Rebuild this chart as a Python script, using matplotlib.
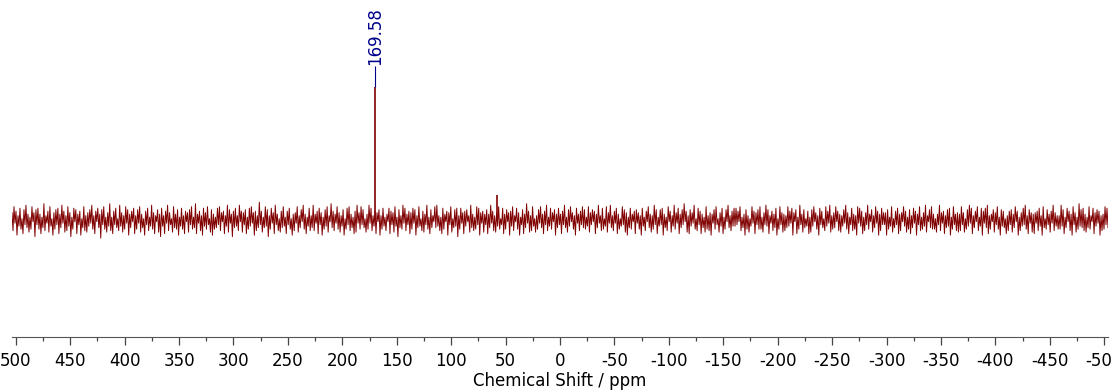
import numpy as np
import matplotlib
matplotlib.use("Agg")
import matplotlib.pyplot as plt
from matplotlib.ticker import MultipleLocator

plt.rcParams['axes.unicode_minus'] = False

# baseline noise (arbitrary intensity units), left (500 ppm) to right (-500 ppm)
noise = [
	5,-7,9,-2,6,-10,3,-4,8,-6,1,-9,7,-3,10,-5,4,-8,2,-6,9,-1,5,-11,7,
	-3,8,-6,4,-9,2,-5,11,-7,3,-2,6,-8,9,-4,1,-10,5,-6,7,-3,8,-9,4,-5,
	10,-2,6,-8,3,-7,9,-4,5,-11,2,-6,8,-1,7,-9,4,-3,6,-10,1,-5,9,-7,3,
	-8,5,-4,7,-2,10,-6,3,-9,6,-1,8,-5,4,-12,7,-3,9,-6,2,-8,5,-4,11,-7,
	2,-9,6,-3,8,-5,1,-7,10,-4,5,-8,3,-6,9,-2,7,-10,4,-5,6,-1,8,-9,3,
	-6,7,-2,9,-8,4,-5,1,-10,6,-3,8,-7,2,-4,10,-6,5,-9,3,-1,7,-8,4,-11,
	8,-4,3,-9,6,-2,10,-7,5,-3,1,-8,9,-5,4,-6,7,-10,2,-4,8,-6,3,-9,6,
	-1,5,-8,7,-3,9,-6,2,-5,11,-9,4,-2,6,-7,3,-10,8,-4,5,-6,9,-3,1,-8,
	7,-10,4,-6,2,-5,8,-3,9,-7,5,-1,6,-9,3,-4,10,-8,7,-2,4,-11,6,-5,8,
	-4,3,-7,10,-1,6,-8,5,-3,7,-9,2,-6,8,-4,9,-2,5,-10,6,-7,3,-5,12,-3,
	6,-8,2,-5,9,-4,7,-11,3,-6,8,-2,5,-9,10,-3,4,-7,1,-8,6,-5,9,-4,2,
	-9,6,-3,8,-6,1,-10,4,-7,5,-2,9,-8,3,-5,7,-1,10,-6,4,-9,2,-4,8,-7,
	3,-5,10,-7,4,-2,6,-9,8,-3,5,-10,2,-6,7,-4,9,-8,3,-1,11,-5,6,-7,4,
	-2,9,-6,5,-8,3,-4,7,-10,1,-6,8,-3,9,-7,4,-5,2,-9,6,-8,10,-2,5,-6,
	9,-3,7,-5,1,-8,4,-6,10,-2,8,-7,3,-4,6,-9,5,-1,7,-10,3,-6,8,-4,2,
	-7,4,-1,8,-9,6,-3,5,-8,9,-4,2,-11,7,-5,3,-6,10,-2,8,-7,4,-3,6,-9,
	5,-6,8,-2,7,-10,3,-5,9,-4,1,-7,6,-8,4,-3,10,-6,2,-9,7,-5,3,-1,9,
	-5,10,-4,3,-7,2,-9,8,-6,4,-1,6,-10,5,-3,9,-8,1,-5,7,-4,8,-11,3,-6,
	8,-2,5,-9,6,-4,7,-1,3,-8,10,-5,4,-7,2,-6,9,-3,8,-10,5,-2,6,-8,4,
	-3,7,-9,4,-5,10,-2,6,-7,3,-8,5,-4,9,-6,1,-3,8,-9,4,-6,7,-1,5,-10,
	6,-4,9,-7,3,-1,8,-6,5,-10,2,-3,7,-9,4,-5,11,-2,6,-8,3,-7,9,-4,1,
	-8,3,-6,7,-2,9,-5,4,-9,6,-3,10,-7,2,-4,8,-6,5,-1,7,-10,4,-5,8,-3,
	4,-9,6,-3,10,-5,2,-8,7,-4,9,-1,5,-6,3,-10,8,-2,4,-7,6,-3,9,-5,7,
	-6,2,-4,9,-8,5,-3,7,-1,6,-9,4,-5,10,-2,3,-7,8,-6,1,-4,9,-8,5,-2,
	10,-5,3,-7,6,-2,8,-9,4,-6,1,-4,9,-3,7,-8,5,-10,2,-5,8,-6,4,-1,6,
	-9,7,-2,5,-6,3,-10,8,-4,2,-7,6,-1,9,-5,4,-8,3,-6,10,-3,7,-9,2,-4,
	7,-3,8,-10,4,-5,2,-7,9,-1,6,-8,3,-4,10,-6,5,-2,8,-9,4,-5,7,-3,11,
	-1,6,-8,3,-9,7,-4,5,-2,10,-6,1,-7,8,-3,6,-9,4,-5,2,-8,9,-6,3,-7,
	5,-10,4,-2,7,-6,9,-3,1,-8,5,-4,8,-9,2,-6,7,-1,10,-5,3,-7,6,-4,8,
	-4,8,-3,6,-1,9,-7,2,-5,4,-10,7,-6,3,-8,1,-4,9,-2,6,-9,5,-3,7,-6,
	9,-6,2,-8,5,-3,10,-4,7,-9,3,-2,6,-7,4,-5,8,-10,1,-6,9,-3,5,-8,4,
	-7,3,-5,9,-4,6,-2,8,-10,5,-1,7,-9,2,-6,10,-3,4,-8,7,-5,1,-4,6,-9,
	2,-8,7,-4,9,-1,5,-6,3,-10,8,-3,6,-5,1,-7,9,-4,6,-2,10,-8,3,-6,5,
	-5,9,-1,6,-7,4,-8,3,-4,7,-2,10,-6,5,-9,2,-3,8,-7,4,-6,3,-10,9,-2,
	8,-4,6,-9,2,-7,5,-3,10,-6,4,-1,7,-8,3,-5,9,-2,6,-10,4,-7,8,-3,5,
	-3,5,-10,7,-6,2,-4,9,-8,1,-5,6,-3,8,-9,4,-7,5,-1,9,-4,6,-8,2,-6,
	7,-9,3,-5,8,-2,6,-10,4,-3,9,-7,2,-6,5,-4,10,-8,3,-1,7,-5,9,-6,4,
	-6,1,-8,4,-3,10,-7,5,-2,6,-9,3,-5,7,-4,8,-10,2,-6,9,-3,4,-7,5,-8,
	4,-7,9,-3,5,-8,1,-6,7,-4,10,-2,8,-9,3,-5,6,-1,9,-7,2,-4,8,-10,6,
	-2,8,-5,10,-9,3,-6,4,-1,7,-8,5,-3,9,-6,2,-10,7,-4,6,-5,1,-9,3,-7,
	6,-3,7,-8,4,-5,9,-1,6,-10,2,-7,5,-4,8,-3,10,-6,3,-9,7,-2,5,-8,4,
	-9,5,-2,6,-7,8,-4,3,-10,9,-5,1,-6,7,-3,4,-8,6,-2,10,-7,5,-4,3,-6,
	3,-6,10,-4,7,-9,2,-5,8,-1,6,-7,4,-10,9,-3,5,-8,2,-6,11,-4,7,-5,8,
	-7,4,-8,2,-5,9,-6,3,-1,8,-9,5,-4,7,-2,6,-10,3,-7,4,-6,9,-3,8,-5,
]
ppm_start, ppm_end = 503.5, -503.5

peak_ppm = [169.58, 58.0]
peak_height = [89, 17]
label_peaks = [169.58]

red = "#800000"
blue = "#00008b"

fig = plt.figure(figsize=(11.13, 3.92), dpi=100)
ax = fig.add_axes([12/1113, 55/392, 1096/1113, 337/392])

ppm = np.linspace(ppm_start, ppm_end, len(noise))
ax.plot(ppm, noise, color=red, lw=0.7)
ax.vlines(peak_ppm, 0, peak_height, color=red, lw=1.2)

for p in label_peaks:
	h = peak_height[peak_ppm.index(p)]
	ax.vlines(p, h, h + 14, color=blue, lw=0.8)
	ax.text(p, h + 14.5, f"{p:.2f}", rotation=90, ha="center", va="bottom",
			color=blue, fontsize=12)

ax.set_xlim(ppm_start, ppm_end)
ax.set_ylim(-78, 147)
ax.xaxis.set_major_locator(MultipleLocator(50))
ax.xaxis.set_minor_locator(MultipleLocator(25))
ax.tick_params(axis="x", which="major", length=6, width=0.9, labelsize=12, pad=5, color="#444444")
ax.tick_params(axis="x", which="minor", length=3, width=0.9, color="#444444")
ax.set_yticks([])
for s in ["left", "right", "top"]:
	ax.spines[s].set_visible(False)
ax.spines["bottom"].set_color("#555555")
ax.set_xlabel("Chemical Shift / ppm", fontsize=12, labelpad=1)

fig.savefig("out.png", dpi=100)
